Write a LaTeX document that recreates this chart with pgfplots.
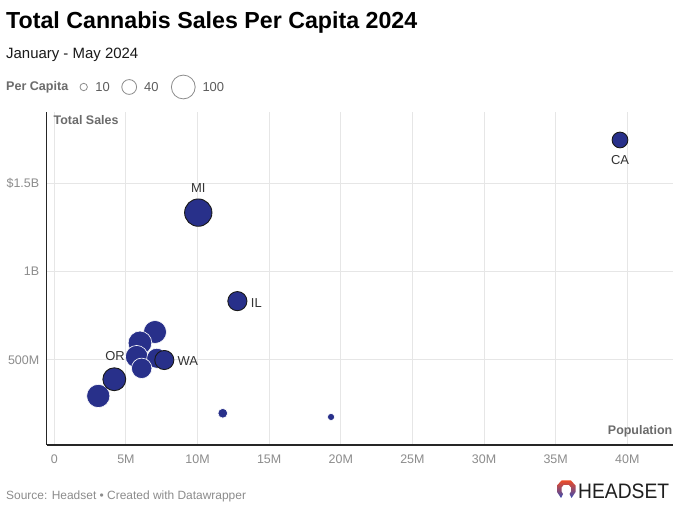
\documentclass[border=0pt]{standalone}
\usepackage{pgfplots}
\pgfplotsset{compat=1.18}
\usepackage{pgfplotstable}
\usetikzlibrary{backgrounds}
\usepackage{fontspec}
\setmainfont{Liberation Sans}
\definecolor{bub}{HTML}{28308A}
\definecolor{gridc}{HTML}{E6E6E6}
\definecolor{tickc}{HTML}{8C8C8C}
\definecolor{labc}{HTML}{6B6B6B}
\definecolor{txtc}{HTML}{333333}
\definecolor{srcc}{HTML}{8C8C8C}

% population (M), total sales (M$), per capita ($)
\pgfplotstableread{
x y pc
7.03 658 93.6
5.98 596 99.7
5.75 518 90
7.15 509 71
6.10 452 74
3.07 295 96
11.76 197 16.7
19.32 176 9.1
}\others

\pgfplotstableread{
x y pc
39.49 1747 44.2
10.05 1335 132.8
12.78 833 65.2
7.68 499 65.0
4.19 390 93.1
}\labeled

\begin{document}
\begin{tikzpicture}[x=1bp,y=1bp]
\begin{axis}[
  scale only axis,
  width=626bp, height=333.3bp,
  xmin=-0.53, xmax=43.17, ymin=17, ymax=1907.5,
  axis x line=bottom, axis y line=left,
  axis line style={-, draw=black!85, line width=1.3bp},
  xtick={0,5,10,15,20,25,30,35,40},
  xticklabels={0,5M,10M,15M,20M,25M,30M,35M,40M},
  ytick={500,1000,1500},
  yticklabels={500M,1B,\$1.5B},
  grid=major, major grid style={gridc, line width=0.9bp},
  major tick length=0pt,
  tick label style={text=tickc, font=\fontsize{12.5}{14}\selectfont},
  xticklabel style={yshift=-6bp},
  yticklabel style={xshift=-4bp},
  clip=false,
]
\coordinate (O) at (rel axis cs:0,0);
\addplot[scatter, only marks, mark=*,
  scatter/use mapped color={draw=white, fill=bub},
  mark options={line width=0.6bp},
  visualization depends on={1.19*sqrt(\thisrow{pc}) \as \rad},
  scatter/@pre marker code/.append style={/tikz/mark size=\rad}]
  table[x=x, y=y, meta=pc] {\others};
\addplot[scatter, only marks, mark=*,
  scatter/use mapped color={draw=black!90, fill=bub},
  mark options={line width=0.9bp},
  visualization depends on={1.19*sqrt(\thisrow{pc}) \as \rad},
  scatter/@pre marker code/.append style={/tikz/mark size=\rad}]
  table[x=x, y=y, meta=pc] {\labeled};
\begin{scope}[every node/.style={font=\fontsize{13}{15}\selectfont, text=txtc, inner sep=0pt}]
\node at (axis cs:39.49,1747) [yshift=-20bp] {CA};
\node at (axis cs:10.05,1335) [yshift=24.4bp] {MI};
\node at (axis cs:12.78,833) [xshift=19bp, yshift=-1.5bp] {IL};
\node at (axis cs:7.68,499) [xshift=23.5bp, yshift=-1bp] {WA};
\node at (axis cs:4.19,390) [xshift=0.7bp, yshift=23bp] {OR};
\end{scope}
\end{axis}
\begin{scope}[shift={(O)}, shift={(-46.7,-65)}]
\begin{scope}[on background layer]
\path[fill=white] (0,0) rectangle (680,510);
\end{scope}
% titles
\node[anchor=base west, inner sep=0pt, font=\fontsize{23.3}{27}\selectfont\bfseries] at (6,481.7) {Total Cannabis Sales Per Capita 2024};
\node[anchor=base west, inner sep=0pt, font=\fontsize{15}{18}\selectfont, text=black!90] at (6,451.7) {January - May 2024};
% legend
\node[anchor=west, inner sep=0pt, font=\fontsize{12.6}{15}\selectfont\bfseries, text=labc] at (6,423) {Per Capita};
\draw[black!45, line width=0.8bp] (83.7,423) circle (3.7);
\node[anchor=west, inner sep=0pt, font=\fontsize{13}{15}\selectfont, text=txtc!80] at (95.3,423) {10};
\draw[black!45, line width=0.8bp] (129.2,423) circle (7.4);
\node[anchor=west, inner sep=0pt, font=\fontsize{13}{15}\selectfont, text=txtc!80] at (144,423) {40};
\draw[black!45, line width=0.8bp] (183.3,423) circle (11.9);
\node[anchor=west, inner sep=0pt, font=\fontsize{13}{15}\selectfont, text=txtc!80] at (202.3,423) {100};
% axis titles
\node[anchor=west, inner sep=0pt, font=\fontsize{12.5}{15}\selectfont\bfseries, text=labc] at (53.5,390) {Total Sales};
\node[anchor=east, inner sep=0pt, font=\fontsize{12.5}{15}\selectfont\bfseries, text=labc] at (672.5,78.3) {Population};
% footer
\node[anchor=west, inner sep=0pt, font=\fontsize{12}{14}\selectfont, text=srcc] at (6,13.3) {Source: Headset \textbullet\ Created with Datawrapper};
% logo
\shade[top color={rgb,255:red,235;green,75;blue,40}, middle color={rgb,255:red,160;green,40;blue,135}, bottom color={rgb,255:red,55;green,75;blue,180}]
  (561.5,29.5) -- (571,29.5) -- (575.5,24.5) -- (575.5,18) -- (571.5,12) -- (569.5,16) -- (571,18.5) -- (571,22.5) -- (569,25) -- (563.5,25) -- (561.5,22.5) -- (561.5,18.5) -- (563,16) -- (561,12) -- (557,18) -- (557,24.5) -- cycle;
\node[anchor=west, inner sep=0pt, font=\fontsize{21}{23}\selectfont, text=black!88] at (578,18.5) {\scalebox{0.92}[1]{HEADSET}};
\pgfresetboundingbox
\path[use as bounding box] (0,0) rectangle (680,510);
\end{scope}
\end{tikzpicture}
\end{document}
